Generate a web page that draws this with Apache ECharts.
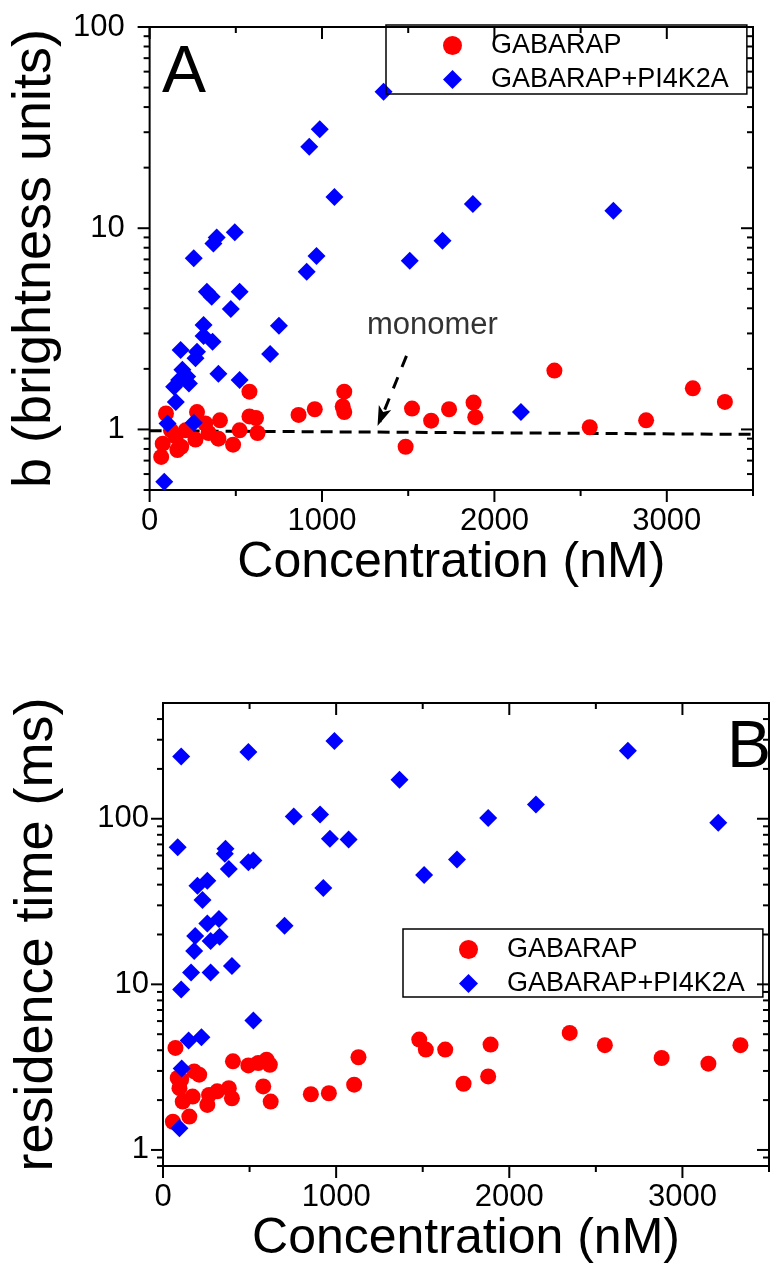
<!DOCTYPE html>
<html>
<head>
<meta charset="utf-8">
<script src="https://cdn.jsdelivr.net/npm/echarts@6/dist/echarts.min.js"></script>
<style>
  html, body { margin: 0; padding: 0; background: #fff; }
  #chart { width: 772px; height: 1273px; }
</style>
</head>
<body>
<div id="chart"></div>
<script>
// ---------- DATA ----------
const seriesNames = ['GABARAP', 'GABARAP+PI4K2A'];

// Panel A: brightness vs concentration  [nM, brightness units]
const gabarapA = [
  [95,1.20],[275,1.22],[408,1.11],[579,1.16],[617,1.14],[626,0.96],[522,0.99],[399,0.90],
  [484,0.84],[266,0.89],[323,1.07],[342,0.96],[152,0.92],[161,0.79],[76,0.85],[67,0.73],
  [124,0.99],[209,0.99],[183,0.82],[579,1.54],[864,1.18],[958,1.26],[1129,1.54],[1120,1.30],
  [1129,1.22],[1485,0.82],[1522,1.27],[1633,1.105],[1737,1.26],[1879,1.36],[1889,1.15],
  [2348,1.96],[2553,1.025],[2880,1.11],[3151,1.60],[3337,1.37]
];
const gabarapPlusA = [
  [1357,47.7],[987,31],[926,25.4],[1072,14.3],[494,9.55],[389,9.0],[370,8.4],[256,7.1],
  [1875,13.2],[2690,12.2],[1699,8.67],[1509,6.9],[2154,1.22],[968,7.28],[911,6.08],
  [332,4.84],[360,4.57],[522,4.84],[471,3.97],[750,3.28],[313,3.3],[313,2.91],[365,2.73],
  [275,2.43],[266,2.26],[180,2.48],[699,2.37],[399,1.89],[522,1.76],[190,1.98],[218,1.83],
  [171,1.76],[228,1.69],[142,1.63],[152,1.37],[104,1.07],[256,1.08],[85,0.55]
];
const monomerLine = [[0,0.985],[3500,0.945]];
const monomerLabel = 'monomer';
const monomerTextAt = [1640, 3.3];
const monomerArrow = [[1490, 2.32], [1335, 1.09]];
const monomerArrowHead = [1322, 1.04];

// Panel B: residence time vs concentration  [nM, ms]
const gabarapB = [
  [72,4.13],[404,3.43],[493,3.24],[550,3.35],[598,3.51],[617,3.27],[1129,3.63],[1104,2.48],
  [854,2.17],[958,2.2],[579,2.42],[622,1.96],[85,2.72],[95,2.36],[114,1.96],[171,2.1],
  [209,2.85],[180,2.98],[266,2.15],[256,1.87],[313,2.26],[380,2.36],[398,2.05],[152,1.59],
  [57,1.48],[105,2.66],[1480,4.64],[1518,4.04],[1630,4.04],[1736,2.51],[1878,2.78],
  [1892,4.33],[2349,5.09],[2552,4.29],[2880,3.59],[3150,3.32],[3335,4.29]
];
const gabarapPlusB = [
  [105,238],[493,253],[990,295],[1366,172],[755,103],[907,106],[964,75.6],[1072,75],
  [1508,45.8],[85,67.3],[361,65.8],[357,61.4],[380,49.8],[493,54.6],[522,55.9],[926,38.2],
  [199,39.4],[256,42.3],[228,32.3],[702,22.6],[256,23.3],[323,24.8],[186,19.6],[275,18.3],
  [327,19.4],[180,15.9],[162,11.8],[275,11.8],[398,12.9],[105,9.3],[522,6.05],[148,4.58],
  [222,4.8],[108,3.1],[95,1.35],[2685,257],[2154,122],[1878,101],[1698,56.7],[3207,94.6]
];

// Axes / ticks
const xRange = [0, 3500];
const xMajorTicks = [0, 1000, 2000, 3000];
const xMinorTicks = [500, 1500, 2500, 3500];
const yRangeA = [0.5, 100];
const yMajorTicksA = [1, 10, 100];
const yMinorTicksA = [0.5,0.6,0.7,0.8,0.9, 2,3,4,5,6,7,8,9, 20,30,40,50,60,70,80,90];
const yRangeB = [0.8, 500];
const yMajorTicksB = [1, 10, 100];
const yMinorTicksB = [0.8,0.9, 2,3,4,5,6,7,8,9, 20,30,40,50,60,70,80,90, 200,300,400];

const xTitle = 'Concentration (nM)';
const yTitleA = 'b (brightness units)';
const yTitleB = 'residence time (ms)';
const panelLabels = ['A', 'B'];

// ---------- RENDER ----------
const FONT = '"Liberation Sans", Arial, sans-serif';
const RED = '#ff0000', BLUE = '#0000ff';
const MAJ = 12, MIN = 6;

function buildTicks(yRange, yMaj, yMin) {
  const out = [];
  yMaj.forEach(v => { out.push([xRange[0], v, -MAJ, 0]); out.push([xRange[1], v, -MAJ, 0]); });
  yMin.forEach(v => { out.push([xRange[0], v, -MIN, 0]); out.push([xRange[1], v, -MIN, 0]); });
  xMajorTicks.forEach(v => { out.push([v, yRange[0], 0, MAJ]); out.push([v, yRange[1], 0, MAJ]); });
  xMinorTicks.forEach(v => { out.push([v, yRange[0], 0, MIN]); out.push([v, yRange[1], 0, MIN]); });
  return out;
}

function tickSeries(idx, data) {
  return {
    type: 'custom', xAxisIndex: idx, yAxisIndex: idx, silent: true, clip: false, z: 5,
    data: data, encode: { x: 0, y: 1 },
    renderItem: function (params, api) {
      const p = api.coord([api.value(0), api.value(1)]);
      return {
        type: 'line',
        shape: { x1: p[0], y1: p[1], x2: p[0] + api.value(2), y2: p[1] + api.value(3) },
        style: { stroke: '#000', lineWidth: 2 }
      };
    }
  };
}

function isDecade(v, list) {
  return list.some(d => Math.abs(v - d) / d < 1e-6);
}

function xAxisDef(gridIndex, gap) {
  return {
    type: 'value', gridIndex, min: xRange[0], max: xRange[1], interval: 1000,
    axisLine: { show: false }, axisTick: { show: false }, splitLine: { show: false },
    axisLabel: {
      margin: 16, fontSize: 31, color: '#000', fontFamily: FONT,
      formatter: v => (v % 1000 === 0 ? String(v) : '')
    },
    name: xTitle, nameLocation: 'middle', nameGap: gap,
    nameTextStyle: { fontSize: 50, color: '#000', fontFamily: FONT }
  };
}

function yAxisDef(gridIndex, range, majors, name, gap, margin) {
  return {
    type: 'log', logBase: 10, gridIndex, min: range[0], max: range[1],
    axisLine: { show: false }, axisTick: { show: false }, splitLine: { show: false },
    axisLabel: {
      margin: margin, fontSize: 31, color: '#000', fontFamily: FONT,
      formatter: v => (isDecade(v, majors) ? String(Math.round(v)) : '')
    },
    name: name, nameLocation: 'middle', nameGap: gap,
    nameTextStyle: { fontSize: 54, color: '#000', fontFamily: FONT }
  };
}

function legendDef(left, top, pad) {
  return {
    data: [
      { name: seriesNames[0], icon: 'circle', itemStyle: { color: RED } },
      { name: seriesNames[1], icon: 'diamond', itemStyle: { color: BLUE } }
    ],
    orient: 'vertical', left, top,
    padding: pad, itemGap: 7, itemWidth: 19, itemHeight: 19,
    borderColor: '#000', borderWidth: 1.5, borderRadius: 0,
    selectedMode: false,
    textStyle: { fontSize: 27, color: '#000', fontFamily: FONT, padding: [0, 0, 0, 24] }
  };
}

const chart = echarts.init(document.getElementById('chart'), null, { renderer: 'canvas' });

chart.setOption({
  animation: false,
  backgroundColor: '#fff',
  grid: [
    { left: 140, top: 27, width: 613, height: 463, show: true, borderColor: '#000', borderWidth: 2, backgroundColor: 'transparent' },
    { left: 163, top: 703, width: 615, height: 463, show: true, borderColor: '#000', borderWidth: 2, backgroundColor: 'transparent' }
  ],
  xAxis: [xAxisDef(0, 43), xAxisDef(1, 45)],
  yAxis: [
    yAxisDef(0, yRangeA, yMajorTicksA, yTitleA, 74, 25),
    yAxisDef(1, yRangeB, yMajorTicksB, yTitleB, 99, 14)
  ],
  legend: [
    legendDef(386, 25, [7, 18, 1, 57]),
    legendDef(403, 929, [7, 18, 0, 56])
  ],
  graphic: [
    { type: 'text', z: 10, style: { text: panelLabels[0], x: 184, y: 73.5, textAlign: 'center', textVerticalAlign: 'middle', font: '66px ' + FONT, fill: '#000' } },
    { type: 'text', z: 10, style: { text: panelLabels[1], x: 749, y: 748.5, textAlign: 'center', textVerticalAlign: 'middle', font: '66px ' + FONT, fill: '#000' } }
  ],
  series: [
    {
      name: 'monomer-line', type: 'line', xAxisIndex: 0, yAxisIndex: 0, data: monomerLine,
      symbol: 'none', silent: true, z: 1,
      lineStyle: { color: '#000', width: 3, type: [12, 7] },
      markPoint: {
        silent: true,
        data: [
          { coord: monomerTextAt, symbol: 'circle', symbolSize: 0,
            label: { show: true, position: 'inside', formatter: monomerLabel, fontSize: 31, color: '#333', fontFamily: FONT } },
          { coord: monomerArrowHead, symbol: 'arrow', symbolSize: [10, 20], symbolRotate: 158,
            itemStyle: { color: '#000' }, label: { show: false } }
        ]
      },
      markLine: {
        silent: true, symbol: ['none', 'none'],
        label: { show: false },
        lineStyle: { color: '#000', width: 3, type: [12, 11] },
        data: [[{ coord: monomerArrow[0] }, { coord: monomerArrow[1] }]]
      }
    },
    {
      name: seriesNames[0], type: 'scatter', xAxisIndex: 0, yAxisIndex: 0, data: gabarapA,
      symbol: 'circle', symbolSize: 16, itemStyle: { color: RED, opacity: 1 }, z: 2
    },
    {
      name: seriesNames[1], type: 'scatter', xAxisIndex: 0, yAxisIndex: 0, data: gabarapPlusA,
      symbol: 'diamond', symbolSize: 18, itemStyle: { color: BLUE, opacity: 1 }, z: 3
    },
    {
      name: seriesNames[0], type: 'scatter', xAxisIndex: 1, yAxisIndex: 1, data: gabarapB,
      symbol: 'circle', symbolSize: 16, itemStyle: { color: RED, opacity: 1 }, z: 2
    },
    {
      name: seriesNames[1], type: 'scatter', xAxisIndex: 1, yAxisIndex: 1, data: gabarapPlusB,
      symbol: 'diamond', symbolSize: 18, itemStyle: { color: BLUE, opacity: 1 }, z: 3
    },
    tickSeries(0, buildTicks(yRangeA, yMajorTicksA, yMinorTicksA)),
    tickSeries(1, buildTicks(yRangeB, yMajorTicksB, yMinorTicksB))
  ]
});
</script>
</body>
</html>
